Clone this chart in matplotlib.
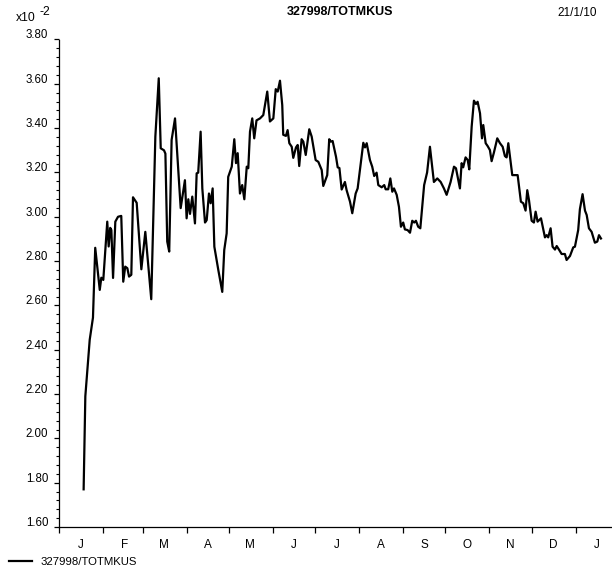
import matplotlib.pyplot as plt
import matplotlib.dates as mdates
import matplotlib.ticker as mticker
import pandas as pd
from matplotlib.transforms import ScaledTranslation

plt.rcParams['font.family'] = ['Liberation Sans', 'DejaVu Sans']

reihe = "327998/TOTMKUS"
datum = "21/1/10"
start = pd.Timestamp("2009-01-01")

# Tage ab 1.1.2009 und Werte (x10^-2)
tage = [17.2, 18.4, 21.5, 23.8, 25.4, 28.6, 29.7, 31.1, 33.9, 34.9,
        36.0, 36.8, 38.0, 39.6, 41.5, 43.8, 45.2, 46.6, 48.1, 49.3,
        50.9, 52.1, 54.7, 58.0, 60.8, 65.0, 67.9, 70.3, 71.7, 74.0,
        75.0, 76.3, 77.7, 79.4, 81.8, 85.8, 88.8, 90.0, 91.2, 92.4,
        94.0, 95.9, 97.1, 98.2, 99.9, 101.1, 103.0, 104.2, 105.8, 107.0,
        108.4, 109.6, 112.4, 115.2, 116.6, 118.3, 119.4, 121.9, 123.7, 124.9,
        126.1, 127.7, 129.3, 130.8, 132.5, 133.6, 134.8, 136.4, 137.8, 139.4,
        141.9, 144.2, 147.0, 148.9, 151.3, 153.0, 154.4, 156.0, 157.6, 158.3,
        160.2, 161.4, 162.6, 164.3, 165.4, 167.3, 168.5, 169.6, 171.3, 172.5,
        174.2, 176.7, 178.4, 181.2, 183.1, 185.5, 186.6, 189.4, 190.8, 192.0,
        193.2, 195.6, 196.8, 198.0, 199.6, 201.9, 203.1, 205.5, 207.1, 209.5,
        210.9, 214.9, 216.1, 217.3, 219.6, 221.2, 222.6, 224.3, 225.5, 227.9,
        229.7, 230.7, 232.5, 234.0, 235.4, 236.6, 238.5, 240.1, 241.5, 243.1,
        244.3, 246.2, 247.9, 249.5, 250.9, 252.1, 253.7, 255.2, 257.9, 260.0,
        262.0, 264.8, 267.2, 269.6, 271.9, 273.8, 276.6, 279.0, 280.4, 283.2,
        284.4, 285.5, 287.2, 288.7, 289.8, 291.5, 293.1, 294.5, 295.7, 297.4,
        298.8, 299.7, 301.4, 302.8, 304.4, 305.6, 307.2, 309.6, 311.5, 313.4,
        315.0, 316.2, 317.4, 319.0, 320.2, 324.0, 326.3, 328.0, 329.6, 330.8,
        332.0, 333.9, 335.5, 336.7, 338.1, 340.5, 343.3, 344.5, 345.6, 347.3,
        348.7, 350.4, 351.6, 353.2, 355.1, 357.4, 358.6, 361.0, 363.3, 364.5,
        366.8, 368.0, 369.9, 371.6, 372.8, 374.4, 376.3, 378.6, 380.3, 381.5,
        382.9]
werte = [1.770, 2.190, 2.445, 2.545, 2.860, 2.670, 2.725, 2.715, 2.978, 2.866,
         2.950, 2.940, 2.724, 2.978, 3.000, 3.004, 2.707, 2.775, 2.768, 2.730,
         2.738, 3.088, 3.063, 2.763, 2.932, 2.628, 3.362, 3.625, 3.309, 3.300,
         3.285, 2.888, 2.843, 3.347, 3.444, 3.039, 3.165, 2.993, 3.079, 3.013,
         3.091, 2.970, 3.196, 3.199, 3.384, 3.128, 2.974, 2.985, 3.105, 3.061,
         3.128, 2.865, 2.760, 2.661, 2.850, 2.925, 3.180, 3.226, 3.350, 3.242,
         3.287, 3.105, 3.143, 3.079, 3.226, 3.219, 3.384, 3.444, 3.354, 3.435,
         3.444, 3.459, 3.565, 3.430, 3.444, 3.576, 3.565, 3.614, 3.504, 3.370,
         3.365, 3.391, 3.332, 3.316, 3.266, 3.313, 3.324, 3.229, 3.350, 3.339,
         3.279, 3.395, 3.362, 3.256, 3.248, 3.211, 3.139, 3.188, 3.350, 3.339,
         3.342, 3.271, 3.223, 3.220, 3.123, 3.157, 3.120, 3.068, 3.016, 3.105,
         3.128, 3.334, 3.313, 3.332, 3.256, 3.226, 3.184, 3.199, 3.143, 3.133,
         3.143, 3.124, 3.124, 3.173, 3.113, 3.128, 3.099, 3.045, 2.955, 2.974,
         2.943, 2.940, 2.928, 2.982, 2.974, 2.982, 2.955, 2.948, 3.143, 3.200,
         3.316, 3.157, 3.173, 3.157, 3.128, 3.099, 3.157, 3.226, 3.219, 3.128,
         3.242, 3.223, 3.268, 3.256, 3.214, 3.407, 3.524, 3.509, 3.519, 3.467,
         3.354, 3.414, 3.332, 3.319, 3.301, 3.251, 3.289, 3.354, 3.332, 3.316,
         3.274, 3.268, 3.332, 3.248, 3.188, 3.188, 3.068, 3.061, 3.028, 3.120,
         3.076, 2.982, 2.974, 3.023, 2.978, 2.993, 2.907, 2.917, 2.907, 2.948,
         2.865, 2.852, 2.868, 2.852, 2.832, 2.832, 2.805, 2.823, 2.862, 2.865,
         2.940, 3.034, 3.102, 3.028, 3.008, 2.948, 2.932, 2.883, 2.888, 2.917,
         2.902]

df = pd.DataFrame({"datum": start + pd.to_timedelta(tage, unit="D"), "wert": werte})

fig = plt.figure(figsize=(6.12, 5.67), dpi=100)
ax = fig.add_axes([59.3 / 612, 1 - 527 / 567, (612 - 59.3) / 612, 487.5 / 567])

ax.plot(df["datum"], df["wert"], color="black", linewidth=1.6, label=reihe)

ax.set_xlim(start, start + pd.Timedelta(days=390.7))
ax.set_ylim(1.60, 3.80)

# Achsen
for s in ["top", "right"]:
    ax.spines[s].set_visible(False)
for s in ["left", "bottom"]:
    ax.spines[s].set_linewidth(0.9)

ax.yaxis.set_major_locator(mticker.MultipleLocator(0.2))
ax.yaxis.set_minor_locator(mticker.MultipleLocator(0.04))
ax.yaxis.set_major_formatter(mticker.FormatStrFormatter("%.2f"))
ax.tick_params(axis="y", which="major", direction="out", length=3.5, width=0.9,
               labelsize=8.3, pad=4.5)
ax.tick_params(axis="y", which="minor", direction="out", length=2, width=0.8)
for lab in ax.get_yticklabels():
    lab.set_transform(lab.get_transform() + ScaledTranslation(0, 4 / 72, fig.dpi_scale_trans))

# Monate: Striche am Monatsanfang, Buchstaben in der Monatsmitte
ax.xaxis.set_major_locator(mdates.MonthLocator())
ax.xaxis.set_major_formatter(mticker.NullFormatter())
ax.xaxis.set_minor_locator(mdates.MonthLocator(bymonthday=16))
ax.xaxis.set_minor_formatter(mticker.FuncFormatter(
    lambda x, pos: mdates.num2date(x).strftime("%b")[0]))
ax.tick_params(axis="x", which="major", direction="out", length=4, width=0.9)
ax.tick_params(axis="x", which="minor", length=0, labelsize=8.5, pad=8.5)

# Kopfzeile
fig.text(340 / 612, 1 - 12 / 567, reihe, ha="center", va="center",
         fontsize=9, fontweight="bold")
fig.text(577 / 612, 1 - 13 / 567, datum, ha="center", va="center", fontsize=8.5)
fig.text(16 / 612, 1 - 18 / 567, "x10", ha="left", va="center", fontsize=8.8)
fig.text(40 / 612, 1 - 12 / 567, "-2", ha="left", va="center", fontsize=8.8)

fig.legend(loc="lower left", bbox_to_anchor=(0.008, -0.008), frameon=False,
           fontsize=8.2, handlelength=2.0, handletextpad=0.7, borderaxespad=0)

plt.savefig("out.png", dpi=100)
